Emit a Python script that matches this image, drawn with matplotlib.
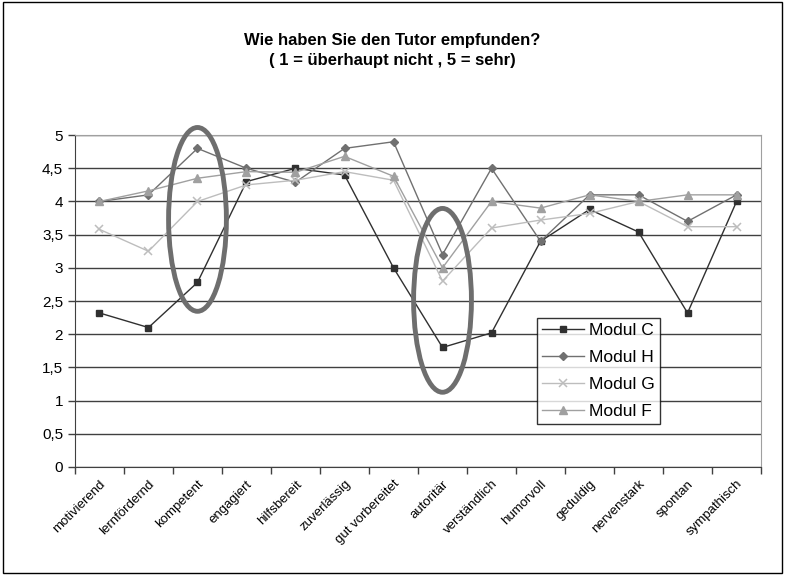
"""
Line chart: Wie haben Sie den Tutor empfunden? (four modules)
"""
import matplotlib
matplotlib.use('Agg')
import matplotlib.pyplot as plt
from matplotlib.patches import Ellipse, Rectangle
from matplotlib.ticker import FuncFormatter, MultipleLocator

plt.rcParams['font.family'] = ['Liberation Sans', 'DejaVu Sans']

categories = ['motivierend', 'lernfördernd', 'kompetent', 'engagiert',
              'hilfsbereit', 'zuverlässig', 'gut vorbereitet', 'autoritär',
              'verständlich', 'humorvoll', 'geduldig', 'nervenstark',
              'spontan', 'sympathisch']

modul_c = [2.32, 2.1, 2.78, 4.3, 4.5, 4.4, 3.0, 1.8, 2.02, 3.4, 3.88, 3.54,
           2.32, 4.0]
modul_h = [4.0, 4.1, 4.8, 4.5, 4.29, 4.8, 4.9, 3.2, 4.5, 3.4, 4.1, 4.1,
           3.7, 4.1]
modul_g = [3.58, 3.25, 4.0, 4.25, 4.32, 4.45, 4.32, 2.8, 3.6, 3.72, 3.82,
           4.0, 3.62, 3.62]
modul_f = [4.0, 4.16, 4.35, 4.45, 4.44, 4.68, 4.38, 3.0, 4.0, 3.9, 4.1,
           4.0, 4.1, 4.1]

# highlighted categories (kompetent, autoritär): center value
highlights = [(2, 3.73), (7, 2.51)]

series = [
    ('Modul C', modul_c, dict(color='#303030', marker='s', markersize=5)),
    ('Modul H', modul_h, dict(color='#707070', marker='D', markersize=4.5)),
    ('Modul G', modul_g, dict(color='#bdbdbd', marker='x', markersize=6,
                              markeredgewidth=1.1)),
    ('Modul F', modul_f, dict(color='#a0a0a0', marker='^', markersize=6)),
]

fig = plt.figure(figsize=(7.85, 5.75), dpi=100)
fig.patches.append(Rectangle((0.004, 0.004), 0.992, 0.992,
                             transform=fig.transFigure, fill=False,
                             edgecolor='black', linewidth=1))
ax = fig.add_axes([0.0955, 0.188, 0.874, 0.577])

x = list(range(len(categories)))
for name, values, style in series:
    ax.plot(x, values, label=name, linewidth=1, **style)

for idx, center in highlights:
    ax.add_patch(Ellipse((idx, center), width=1.18, height=2.77,
                         fill=False, edgecolor='#6e6e6e', linewidth=3.5,
                         zorder=5, clip_on=False))

ax.set_xlim(-0.5, len(categories) - 0.5)
ax.set_ylim(0, 5)
ax.yaxis.set_major_locator(MultipleLocator(0.5))
ax.yaxis.set_major_formatter(
    FuncFormatter(lambda v, _: ('%g' % v).replace('.', ',')))
ax.grid(axis='y', color='#404040', linewidth=1)
ax.set_axisbelow(True)

ax.set_xticks([i - 0.5 for i in range(len(categories) + 1)])
ax.set_xticklabels([])
ax.set_xticks(x, minor=True)
ax.set_xticklabels(categories, minor=True, rotation=45, ha='right',
                   rotation_mode='anchor', fontsize=9.5)
ax.tick_params(axis='x', which='minor', length=0, pad=8)
ax.tick_params(axis='x', which='major', length=5, width=1, color='#404040')
ax.tick_params(axis='y', length=5, width=1, color='#404040', labelsize=11)

ax.spines['left'].set_color('#404040')
ax.spines['bottom'].set_color('#404040')
ax.spines['right'].set_color('#a0a0a0')
ax.spines['top'].set_color('#a0a0a0')

leg = ax.legend(loc='upper left', bbox_to_anchor=(0.673, 0.45),
                frameon=True, fancybox=False, fontsize=12.5,
                handlelength=2.4, borderpad=0.3, labelspacing=0.68,
                handletextpad=0.3, borderaxespad=0)
leg.get_frame().set_edgecolor('black')
leg.get_frame().set_linewidth(1)

fig.text(0.5, 0.912, 'Wie haben Sie den Tutor empfunden?\n'
         '( 1 = überhaupt nicht , 5 = sehr)',
         ha='center', va='center', fontsize=12, fontweight='bold',
         linespacing=1.45)

fig.savefig('out.png', dpi=100)
